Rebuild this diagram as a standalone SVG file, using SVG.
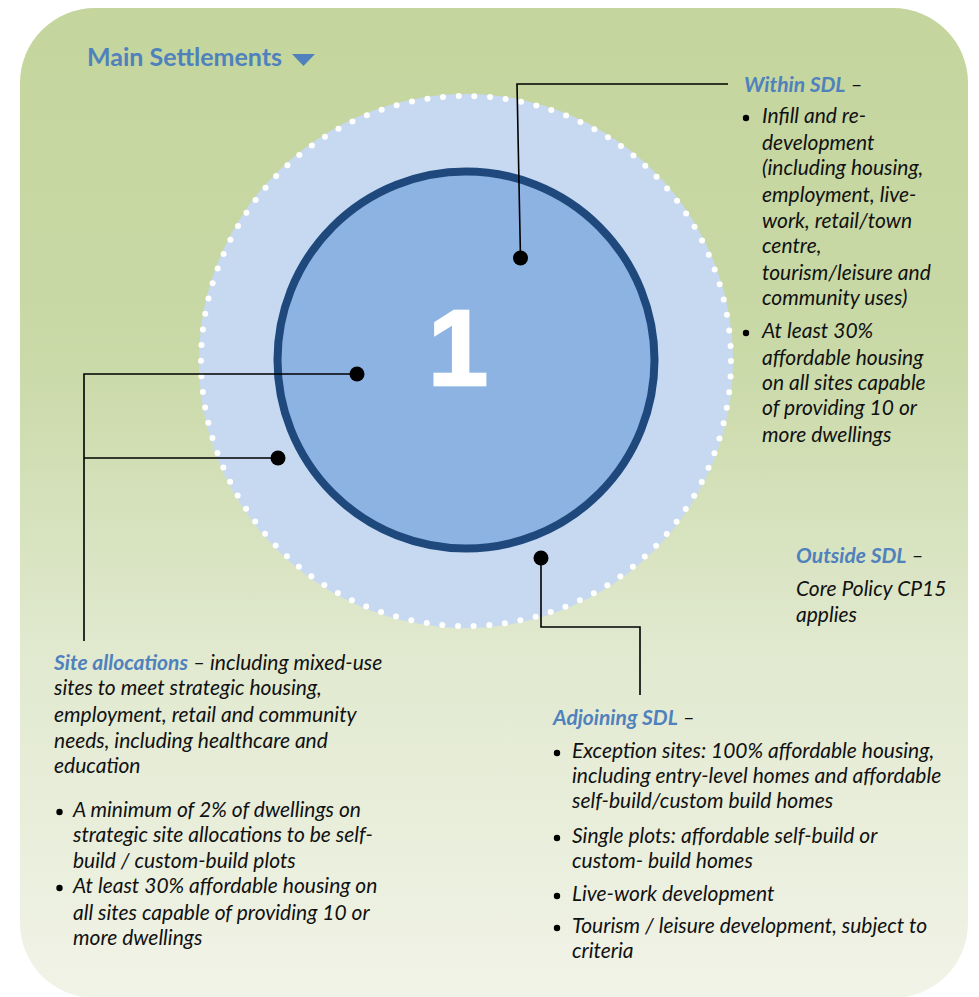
<svg xmlns="http://www.w3.org/2000/svg" width="979" height="997" viewBox="0 0 979 997">
<defs>
<linearGradient id="bg" x1="0" y1="0" x2="0" y2="1">
<stop offset="0" stop-color="#c4d59d"/>
<stop offset="0.35" stop-color="#c9d9a7"/>
<stop offset="0.65" stop-color="#e1e9cf"/>
<stop offset="1" stop-color="#f1f3e7"/>
</linearGradient>
<style>
.t{font-family:Lato,"Liberation Sans",sans-serif;font-style:italic;font-size:21px;fill:#111}
.h{font-weight:bold;fill:#4f81bd}
.ln{fill:none;stroke:#000;stroke-width:1.6}
.dot{fill:#000}
.b{fill:#000}
</style>
</defs>
<rect x="20" y="8" width="948" height="990" rx="75" fill="url(#bg)"/>
<g id="title">
<text x="87" y="66" style="font-family:Lato,'Liberation Sans',sans-serif;font-weight:bold;font-size:25px;fill:#4f81bd">Main Settlements</text>
<polygon points="292,54 315,54 303.5,66" fill="#4f81bd"/>
</g>
<g id="outer-zone">
<circle cx="466" cy="361" r="267" fill="#c6d9f1"/>
<circle cx="466" cy="361" r="265" fill="none" stroke="#fff" stroke-width="6" stroke-linecap="round" stroke-dasharray="0 15.708"/>
</g>
<g id="inner-zone">
<circle cx="466" cy="360" r="188.5" fill="#8db3e2" stroke="#1f497d" stroke-width="8"/>
<text x="458" y="385" text-anchor="middle" stroke="#fff" stroke-width="2.5" style="font-family:'Liberation Sans',Arial,sans-serif;font-weight:bold;font-size:108px;fill:#fff">1</text>
</g>
<g id="connectors">
<polyline class="ln" points="520.5,258 517,84 728,84"/>
<circle class="dot" cx="520.5" cy="258" r="7.5"/>
<polyline class="ln" points="357,374 84,374 84,641"/>
<polyline class="ln" points="278,458 84,458"/>
<circle class="dot" cx="357" cy="374" r="7.5"/>
<circle class="dot" cx="278" cy="458" r="7.5"/>
<polyline class="ln" points="541,558 541,627 640,627 640,695"/>
<circle class="dot" cx="541" cy="558" r="7.5"/>
</g>
<g id="within-sdl">
<text class="t"><tspan x="744" y="92" class="h">Within SDL</tspan><tspan> –</tspan></text>
<circle class="b" cx="746" cy="118" r="3.2"/>
<text class="t">
<tspan x="762" y="123">Infill and re-</tspan>
<tspan x="762" y="150">development</tspan>
<tspan x="762" y="175">(including housing,</tspan>
<tspan x="762" y="202">employment, live-</tspan>
<tspan x="762" y="228">work, retail/town</tspan>
<tspan x="762" y="253">centre,</tspan>
<tspan x="762" y="280">tourism/leisure and</tspan>
<tspan x="762" y="305">community uses)</tspan>
</text>
<circle class="b" cx="746" cy="333" r="3.2"/>
<text class="t">
<tspan x="762" y="338">At least 30%</tspan>
<tspan x="762" y="365">affordable housing</tspan>
<tspan x="762" y="390">on all sites capable</tspan>
<tspan x="762" y="415">of providing 10 or</tspan>
<tspan x="762" y="442">more dwellings</tspan>
</text>
</g>
<g id="outside-sdl">
<text class="t"><tspan x="796" y="563" class="h">Outside SDL</tspan><tspan> –</tspan></text>
<text class="t"><tspan x="796" y="596">Core Policy CP15</tspan><tspan x="796" y="622">applies</tspan></text>
</g>
<g id="site-allocations">
<text class="t"><tspan x="54" y="670" class="h">Site allocations</tspan><tspan> – including mixed-use</tspan></text>
<text class="t">
<tspan x="54" y="695">sites to meet strategic housing,</tspan>
<tspan x="54" y="722">employment, retail and community</tspan>
<tspan x="54" y="748">needs, including healthcare and</tspan>
<tspan x="54" y="773">education</tspan>
</text>
<circle class="b" cx="59.5" cy="812" r="3.2"/>
<text class="t">
<tspan x="73" y="817">A minimum of 2% of dwellings on</tspan>
<tspan x="73" y="842">strategic site allocations to be self-</tspan>
<tspan x="73" y="868">build / custom-build plots</tspan>
</text>
<circle class="b" cx="59.5" cy="888" r="3.2"/>
<text class="t">
<tspan x="73" y="893">At least 30% affordable housing on</tspan>
<tspan x="73" y="920">all sites capable of providing 10 or</tspan>
<tspan x="73" y="945">more dwellings</tspan>
</text>
</g>
<g id="adjoining-sdl">
<text class="t"><tspan x="553" y="725" class="h">Adjoining SDL</tspan><tspan> –</tspan></text>
<circle class="b" cx="557" cy="753" r="3.2"/>
<text class="t">
<tspan x="572" y="758">Exception sites: 100% affordable housing,</tspan>
<tspan x="572" y="783">including entry-level homes and affordable</tspan>
<tspan x="572" y="808">self-build/custom build homes</tspan>
</text>
<circle class="b" cx="557" cy="838" r="3.2"/>
<text class="t">
<tspan x="572" y="843">Single plots: affordable self-build or</tspan>
<tspan x="572" y="868">custom- build homes</tspan>
</text>
<circle class="b" cx="557" cy="896" r="3.2"/>
<text class="t"><tspan x="572" y="901">Live-work development</tspan></text>
<circle class="b" cx="557" cy="928" r="3.2"/>
<text class="t">
<tspan x="572" y="933">Tourism / leisure development, subject to</tspan>
<tspan x="572" y="958">criteria</tspan>
</text>
</g>
</svg>
